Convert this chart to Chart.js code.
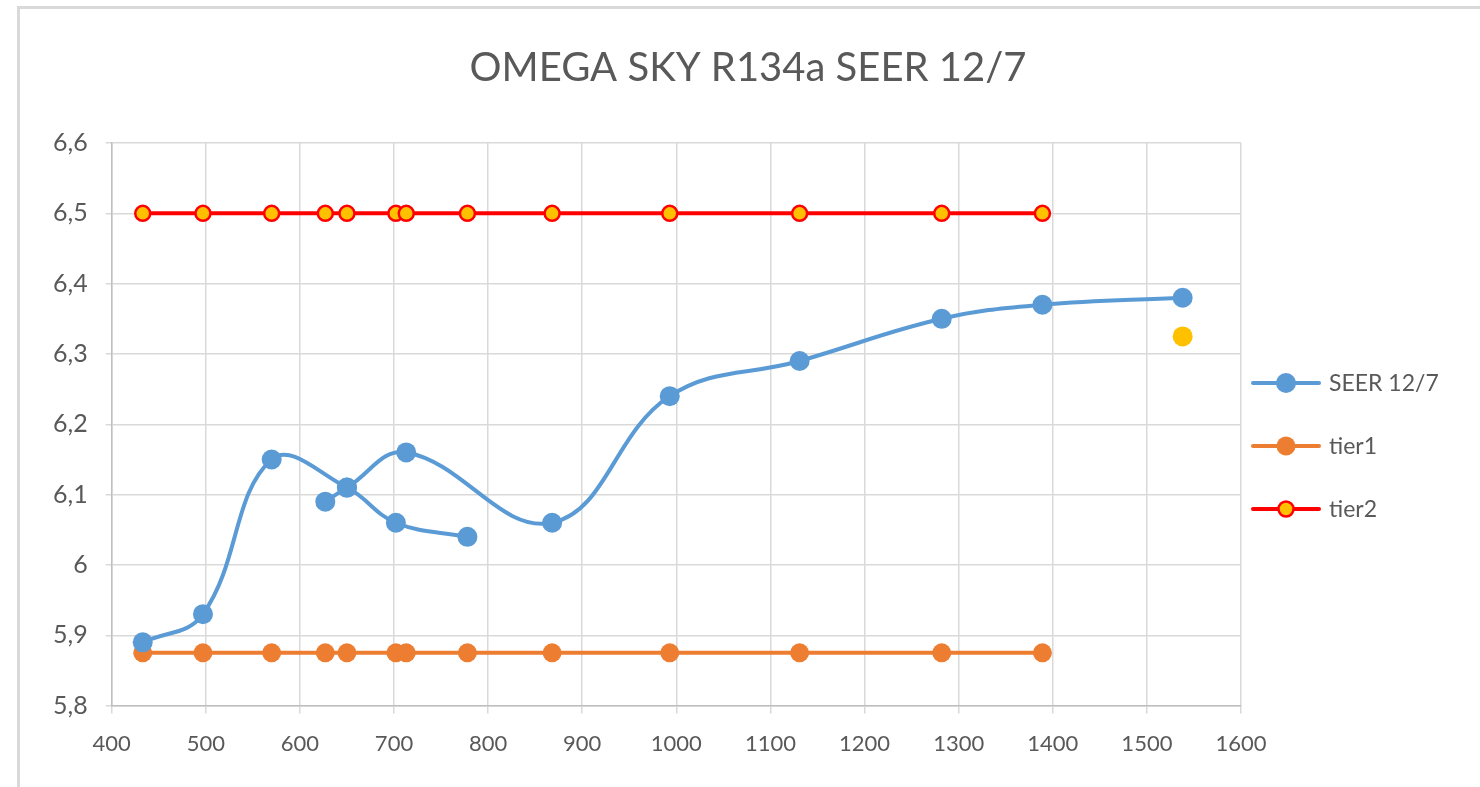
<!DOCTYPE html>
<html>
<head>
<meta charset="utf-8">
<script src="https://cdn.jsdelivr.net/npm/chart.js@4"></script>
<style>
  body { margin: 0; background: #fff; }
  #wrap { position: relative; width: 1480px; height: 787px; }
  #frame { position: absolute; left: 17px; top: 6px; right: 0; bottom: 0;
           border-left: 3px solid #d9d9d9; border-top: 3px solid #d9d9d9; }
  canvas { position: absolute; left: 0; top: 0; }
</style>
</head>
<body>
<div id="wrap">
  <div id="frame"></div>
  <canvas id="chart" width="1480" height="787"></canvas>
</div>
<script>
// Measured capacity (x) and SEER values; null marks the break in the blue curve
const seerX = [433, 497, 570, 650, 702, 778, null, 627, 650, 713, 868, 993, 1131, 1282, 1389, 1538];
const seerY = [5.89, 5.93, 6.15, 6.11, 6.06, 6.04, null, 6.09, 6.11, 6.16, 6.06, 6.24, 6.29, 6.35, 6.37, 6.38];

const tierX = [433, 497, 570, 627, 650, 702, 713, 778, 868, 993, 1131, 1282, 1389];
const tier1Y = [5.875, 5.875, 5.875, 5.875, 5.875, 5.875, 5.875, 5.875, 5.875, 5.875, 5.875, 5.875, 5.875];
const tier2Y = [6.5, 6.5, 6.5, 6.5, 6.5, 6.5, 6.5, 6.5, 6.5, 6.5, 6.5, 6.5, 6.5];

const extraX = [1538];
const extraY = [6.325];

const legendNames = ['SEER 12/7', 'tier1', 'tier2'];
const chartTitle = 'OMEGA SKY R134a SEER 12/7';

const FONT = 'Lato, "Open Sans", sans-serif';
const TEXT = '#595959';

function toPoints(xs, ys) {
    return xs.map((x, i) => ({ x: x, y: ys[i] }));
}

// title centred on the whole canvas + Excel-like legend (line + marker) on the right
const decorations = {
    id: 'decorations',
    afterDraw(chart) {
        const ctx = chart.ctx;
        ctx.save();
        ctx.fillStyle = TEXT;
        ctx.font = '40px ' + FONT;
        ctx.textAlign = 'center';
        ctx.textBaseline = 'middle';
        ctx.fillText(chartTitle, 748, 68);

        const left = chart.chartArea.right + 12;
        const rows = [383, 446, 509];
        ctx.textAlign = 'left';
        legendNames.forEach((name, i) => {
            const ds = chart.data.datasets[i];
            const y = rows[i];
            ctx.strokeStyle = ds.borderColor;
            ctx.lineWidth = 4;
            ctx.lineCap = 'round';
            ctx.beginPath();
            ctx.moveTo(left, y);
            ctx.lineTo(left + 66, y);
            ctx.stroke();
            ctx.beginPath();
            ctx.arc(left + 33, y, ds.pointRadius, 0, Math.PI * 2);
            ctx.fillStyle = ds.pointBackgroundColor;
            ctx.fill();
            if (ds.pointBorderWidth) {
                ctx.lineWidth = ds.pointBorderWidth;
                ctx.strokeStyle = ds.pointBorderColor;
                ctx.stroke();
            }
            ctx.fillStyle = TEXT;
            ctx.font = '23px ' + FONT;
            ctx.textBaseline = 'middle';
            ctx.fillText(name, left + 76, y + 1);
        });
        ctx.restore();
    }
};

new Chart(document.getElementById('chart'), {
    type: 'scatter',
    data: {
        datasets: [{
            label: legendNames[0],
            data: toPoints(seerX, seerY),
            showLine: true,
            spanGaps: false,
            tension: 0.4,
            borderColor: '#5B9BD5',
            borderWidth: 4,
            pointRadius: 10,
            pointHoverRadius: 10,
            pointBackgroundColor: '#5B9BD5',
            pointBorderColor: '#5B9BD5',
            pointBorderWidth: 0,
            order: 1
        }, {
            label: legendNames[1],
            data: toPoints(tierX, tier1Y),
            showLine: true,
            borderColor: '#ED7D31',
            borderWidth: 4,
            pointRadius: 9.5,
            pointHoverRadius: 9.5,
            pointBackgroundColor: '#ED7D31',
            pointBorderColor: '#ED7D31',
            pointBorderWidth: 0,
            order: 2
        }, {
            label: legendNames[2],
            data: toPoints(tierX, tier2Y),
            showLine: true,
            borderColor: '#FF0000',
            borderWidth: 4,
            pointRadius: 7.5,
            pointHoverRadius: 7.5,
            pointBackgroundColor: '#FFC000',
            pointBorderColor: '#FF0000',
            pointBorderWidth: 2.5,
            order: 3
        }, {
            label: 'extra',
            data: toPoints(extraX, extraY),
            showLine: false,
            pointRadius: 10,
            pointBackgroundColor: '#FFC000',
            pointBorderColor: '#FFC000',
            pointBorderWidth: 0,
            order: 4
        }]
    },
    options: {
        responsive: false,
        animation: false,
        layout: { padding: { left: 35, right: 239, top: 143, bottom: 13 } },
        plugins: {
            legend: { display: false },
            tooltip: { enabled: false },
            title: { display: false }
        },
        scales: {
            x: {
                type: 'linear',
                min: 400,
                max: 1600,
                ticks: {
                    stepSize: 100,
                    color: TEXT,
                    font: { family: FONT, size: 22 },
                    padding: 17,
                    maxRotation: 0,
                    callback: v => String(v)
                },
                grid: { color: '#d9d9d9', lineWidth: 1.5, tickLength: 8 },
                border: { color: '#bfbfbf', width: 1.5 }
            },
            y: {
                min: 5.8,
                max: 6.6,
                ticks: {
                    stepSize: 0.1,
                    color: TEXT,
                    font: { family: FONT, size: 25 },
                    padding: 18,
                    callback: v => String(Math.round(v * 10) / 10).replace('.', ',')
                },
                grid: { color: '#d9d9d9', lineWidth: 1.5, tickLength: 6 },
                border: { color: '#bfbfbf', width: 1.5 }
            }
        }
    },
    plugins: [decorations]
});
</script>
</body>
</html>
